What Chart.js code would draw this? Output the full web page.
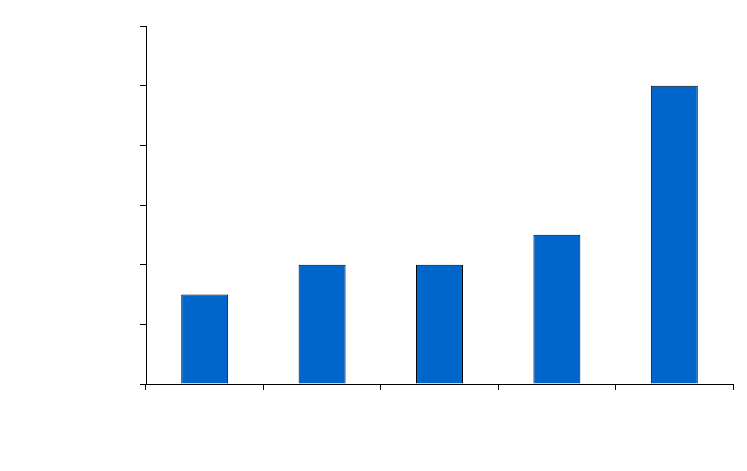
<!DOCTYPE html>
<html>
<head>
<meta charset="utf-8">
<style>
  html, body { margin: 0; padding: 0; background: #fff; }
  #wrap { width: 747px; height: 471px; }
</style>
<script src="https://cdn.jsdelivr.net/npm/chart.js@4/dist/chart.umd.min.js"></script>
</head>
<body>
<div id="wrap"><canvas id="c"></canvas></div>
<script>
// Data (no labels are printed on it)
var categories = ['1', '2', '3', '4', '5'];
var values = [1.5, 2, 2, 2.5, 5];
var yTicks = [0, 1, 2, 3, 4, 5, 6];

var barColor = '#0066cc';

new Chart(document.getElementById('c'), {
    type: 'bar',
    data: {
        labels: categories,
        datasets: [{
            data: values,
            backgroundColor: barColor,
            borderColor: '#000',
            borderWidth: 1,
            barPercentage: 0.4,
            categoryPercentage: 1
        }]
    },
    options: {
        responsive: true,
        maintainAspectRatio: false,
        animation: false,
        plugins: {
            legend: { display: false },
            tooltip: { enabled: false },
            title: { display: false }
        },
        layout: {
            padding: { top: 26, right: 14, bottom: 81, left: 140 }
        },
        scales: {
            x: {
                ticks: { display: false },
                grid: {
                    offset: true,
                    drawOnChartArea: false,
                    drawTicks: true,
                    tickLength: 6,
                    tickColor: '#000'
                },
                border: { color: '#000', width: 1 }
            },
            y: {
                min: yTicks[0],
                max: yTicks[yTicks.length - 1],
                ticks: { display: false, stepSize: 1 },
                grid: {
                    drawOnChartArea: false,
                    drawTicks: true,
                    tickLength: 6,
                    tickColor: '#000'
                },
                border: { color: '#000', width: 1 }
            }
        }
    }
});
</script>
</body>
</html>
